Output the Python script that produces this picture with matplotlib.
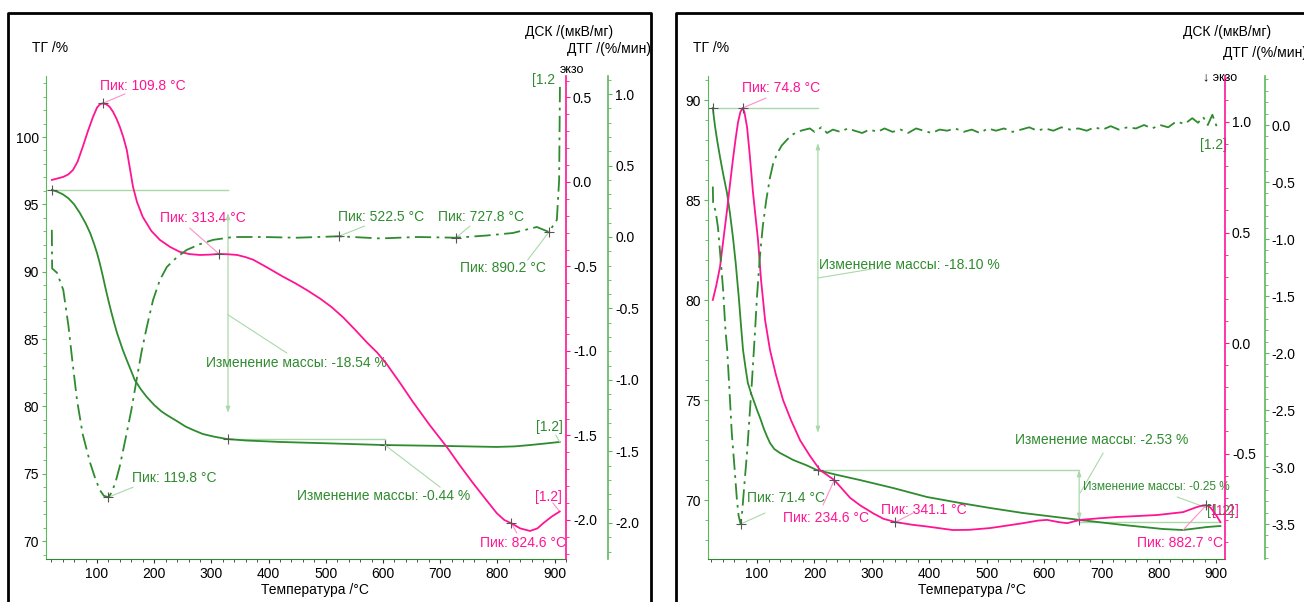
import matplotlib
matplotlib.use("Agg")
import matplotlib.pyplot as plt
from matplotlib.lines import Line2D
from matplotlib.ticker import MultipleLocator, FormatStrFormatter

plt.rcParams['font.family'] = ['Liberation Sans Narrow', 'Liberation Sans', 'DejaVu Sans']
plt.rcParams['axes.unicode_minus'] = False

# ---------------- left sample ----------------
L_T_TG = [21, 30, 40, 50, 60, 70, 80, 88, 95, 100, 105, 110, 115, 120, 125, 130, 135, 145, 152, 160, 166,
          177, 187, 200, 212, 222, 240, 255, 268, 285, 305, 327, 360, 420, 510, 603, 712, 760, 799, 830,
          857, 885, 909]
L_TG = [96.07, 95.95, 95.75, 95.45, 95.0, 94.36, 93.6, 92.87, 92.05, 91.39, 90.6, 89.7, 88.75, 87.85, 87.0,
        86.2, 85.45, 84.2, 83.44, 82.6, 81.96, 81.25, 80.7, 80.1, 79.65, 79.36, 78.9, 78.5, 78.25, 77.95,
        77.75, 77.58, 77.47, 77.36, 77.25, 77.13, 77.06, 77.02, 76.99, 77.03, 77.13, 77.25, 77.36]

L_T_DSC = [21, 30, 41, 50, 58, 66, 75, 84, 93, 100, 105, 109.8, 116, 122, 128, 134, 140, 146, 152, 157,
           163, 170, 180, 195, 210, 228, 245, 262, 280, 297, 313.4, 330, 345, 360, 373, 397, 425, 447,
           467, 490, 510, 530, 550, 572, 590, 607, 630, 652, 682, 712, 735, 757, 779, 799, 812, 824.6,
           840, 857, 870, 880, 895, 909]
L_DSC = [0.012, 0.02, 0.03, 0.045, 0.071, 0.12, 0.207, 0.3, 0.385, 0.44, 0.46, 0.465, 0.46, 0.445, 0.415,
         0.375, 0.325, 0.265, 0.19, 0.09, -0.03, -0.12, -0.207, -0.29, -0.343, -0.385, -0.414, -0.427,
         -0.432, -0.43, -0.426, -0.428, -0.432, -0.445, -0.46, -0.505, -0.56, -0.60, -0.64, -0.69, -0.74,
         -0.80, -0.87, -0.95, -1.01, -1.08, -1.19, -1.30, -1.44, -1.57, -1.68, -1.78, -1.875, -1.96, -2.0,
         -2.02, -2.05, -2.065, -2.05, -2.02, -1.98, -1.95]

L_T_DTG = [21, 21.5, 30, 41, 50, 57, 65, 75, 88, 97, 105, 112, 119.8, 125, 132, 140, 152, 160, 170, 178,
           187, 198, 210, 222, 240, 257, 280, 303, 338, 390, 450, 522.5, 595, 660, 727.8, 780, 827, 869,
           890.2, 904, 908, 909.4]
L_DTG = [0.05, -0.22, -0.25, -0.37, -0.62, -0.87, -1.14, -1.38, -1.58, -1.69, -1.77, -1.81, -1.82, -1.79,
         -1.72, -1.6, -1.37, -1.21, -0.98, -0.8, -0.63, -0.44, -0.3, -0.21, -0.14, -0.09, -0.05, -0.02,
         0.0, 0.0, -0.005, 0.005, -0.01, 0.0, -0.005, 0.01, 0.028, 0.07, 0.035, 0.12, 0.4, 1.05]

# ---------------- right sample ----------------
R_T_TG = [23, 25, 27, 31, 35.5, 41, 47.7, 53, 58, 63, 68.6, 72, 75.6, 80, 84, 90, 95, 100, 106, 112, 117,
          122.6, 130, 140, 150, 163, 185, 204, 240, 279, 337, 396, 454, 506, 563, 663, 738, 807, 842,
          870, 884, 907]
R_TG = [89.6, 89.1, 88.65, 87.9, 87.15, 86.3, 85.35, 84.3, 83.15, 81.8, 80.0, 78.75, 77.5, 76.6, 75.85,
        75.3, 74.9, 74.5, 74.05, 73.55, 73.2, 72.85, 72.55, 72.35, 72.2, 72.0, 71.75, 71.5, 71.25, 71.0,
        70.6, 70.15, 69.85, 69.6, 69.35, 69.0, 68.75, 68.55, 68.5, 68.6, 68.65, 68.7]

R_T_DSC = [23, 29, 35.5, 41, 47.7, 53, 58, 63, 67, 71, 74.8, 78, 82.6, 87, 93, 101.7, 107, 114, 122.6,
           133, 145.3, 159, 175, 192, 209.8, 234.6, 262, 280, 302, 320, 341.1, 370, 396, 441, 470, 506,
           535, 563, 590, 605, 625, 640, 663, 695, 727, 760, 797, 842, 866, 876, 882.7, 890, 900, 907]
R_DSC = [0.195, 0.26, 0.344, 0.46, 0.60, 0.72, 0.83, 0.93, 1.0, 1.045, 1.063, 1.045, 0.977, 0.86, 0.68,
         0.466, 0.285, 0.104, -0.032, -0.145, -0.258, -0.348, -0.44, -0.51, -0.575, -0.62, -0.70, -0.735,
         -0.77, -0.795, -0.81, -0.822, -0.83, -0.846, -0.845, -0.837, -0.826, -0.815, -0.803, -0.80,
         -0.81, -0.815, -0.80, -0.793, -0.787, -0.783, -0.778, -0.765, -0.742, -0.735, -0.733, -0.745,
         -0.78, -0.81]

R_T_DTG = [23, 23.5, 28, 32, 37, 41, 45, 48, 52, 56, 61, 65, 68, 71.4, 74, 78, 83, 87, 91, 96, 100, 105,
           110, 116, 122.6, 128, 135, 143, 152, 160, 170, 180, 192,
           200, 212, 222, 232, 245, 258, 270, 283, 296, 310, 322, 336, 350, 363, 377, 390, 404, 418, 431,
           445, 460, 474, 488, 502, 516, 530, 545, 560, 574, 588, 602, 616, 630, 645, 660, 674, 688, 702,
           716, 730, 745, 760, 774, 788, 802, 816, 830, 845, 858, 868, 877, 885, 893, 901]
R_DTG = [-0.54, -0.68, -0.76, -0.9, -1.2, -1.45, -1.8, -1.97, -2.33, -2.70, -3.02, -3.29, -3.43, -3.50,
         -3.40, -3.15, -2.85, -2.55, -2.26, -1.85, -1.5, -1.15, -0.89, -0.66, -0.46, -0.34, -0.25, -0.18,
         -0.13, -0.09, -0.06, -0.045, -0.03,
         -0.06, -0.02, -0.07, -0.04, -0.06, -0.03, -0.05, -0.07, -0.04, -0.06, -0.03, -0.06, -0.04, -0.07,
         -0.03, -0.05, -0.07, -0.04, -0.05, -0.03, -0.06, -0.04, -0.07, -0.03, -0.05, -0.03, -0.06, -0.04,
         -0.02, -0.05, -0.03, -0.05, -0.02, -0.04, -0.03, -0.05, -0.02, -0.04, -0.01, -0.04, -0.02, -0.03,
         0.0, -0.03, 0.0, -0.02, 0.03, 0.01, 0.06, 0.02, 0.07, 0.0, 0.09, -0.02]

L_TG_TICKS = [70, 75, 80, 85, 90, 95, 100]
L_DSC_TICKS = [-2.0, -1.5, -1.0, -0.5, 0.0, 0.5]
L_DTG_TICKS = [-2.0, -1.5, -1.0, -0.5, 0.0, 0.5, 1.0]
R_TG_TICKS = [70, 75, 80, 85, 90]
R_DSC_TICKS = [-0.5, 0.0, 0.5, 1.0]
R_DTG_TICKS = [-3.5, -3.0, -2.5, -2.0, -1.5, -1.0, -0.5, 0.0]
X_TICKS = [100, 200, 300, 400, 500, 600, 700, 800, 900]

W, H = 1304, 602
GREEN = '#2e8b2e'
SPINE_G = '#5cb85c'
LGREEN = '#a9d9a9'
PINK = '#ff1493'
LPINK = '#ff8fc8'
CROSS = '#555555'
FS = 10
LW = 1.3
DASHDOT = (0, (9, 3, 1.5, 3))


def fig_rect(x0, x1, y0, y1):
    return [x0 / W, 1 - y1 / H, (x1 - x0) / W, (y1 - y0) / H]


def make_panel(fig, x0, x1, dtg_pos, xlim, tg_lim, dsc_lim, dtg_lim, tg_ticks, dsc_ticks, dtg_ticks):
    ax = fig.add_axes(fig_rect(x0, x1, 76, 559))
    ax.set_xlim(xlim)
    ax.set_ylim(tg_lim)
    ax.spines['top'].set_visible(False)
    ax.spines['right'].set_visible(False)
    ax.spines['left'].set_color(SPINE_G)
    ax.spines['bottom'].set_color(GREEN)
    ax.set_xticks(X_TICKS)
    ax.xaxis.set_minor_locator(MultipleLocator(20))
    ax.set_yticks(tg_ticks)
    ax.yaxis.set_minor_locator(MultipleLocator(1))
    ax.tick_params(axis='x', which='both', colors='#333333', labelcolor='black', labelsize=FS,
                   length=3, pad=3)
    ax.tick_params(axis='y', which='both', colors=SPINE_G, labelcolor='black', labelsize=FS,
                   length=3, pad=2)
    ax.tick_params(which='minor', length=2)

    ax_dsc = ax.twinx()
    ax_dsc.set_ylim(dsc_lim)
    for s in ['left', 'top', 'bottom']:
        ax_dsc.spines[s].set_visible(False)
    ax_dsc.spines['right'].set_color(PINK)
    ax_dsc.spines['right'].set_linewidth(1.2)
    ax_dsc.set_yticks(dsc_ticks)
    ax_dsc.yaxis.set_minor_locator(MultipleLocator(0.1))
    ax_dsc.yaxis.set_major_formatter(FormatStrFormatter('%.1f'))
    ax_dsc.tick_params(axis='y', which='both', colors=PINK, labelcolor='black', labelsize=FS,
                       length=3, pad=2)
    ax_dsc.tick_params(which='minor', length=2)

    ax_dtg = ax.twinx()
    ax_dtg.set_ylim(dtg_lim)
    for s in ['left', 'top', 'bottom']:
        ax_dtg.spines[s].set_visible(False)
    ax_dtg.spines['right'].set_position(('axes', dtg_pos))
    ax_dtg.spines['right'].set_color(SPINE_G)
    ax_dtg.spines['right'].set_linewidth(1.2)
    ax_dtg.set_yticks(dtg_ticks)
    ax_dtg.yaxis.set_minor_locator(MultipleLocator(0.1))
    ax_dtg.yaxis.set_major_formatter(FormatStrFormatter('%.1f'))
    ax_dtg.tick_params(axis='y', which='both', colors=SPINE_G, labelcolor='black', labelsize=FS,
                       length=3, pad=2)
    ax_dtg.tick_params(which='minor', length=2)
    return ax, ax_dsc, ax_dtg


def leader(ax_from, p, ax_to, q, color):
    ax_to.annotate('', xy=p, xycoords=ax_from.transData, xytext=q, textcoords=ax_to.transData,
                   arrowprops=dict(arrowstyle='-', color=color, lw=0.8, shrinkA=0, shrinkB=0))


def darrow(ax, x, y1, y2):
    ax.annotate('', xy=(x, y2), xytext=(x, y1),
                arrowprops=dict(arrowstyle='<|-|>,head_length=0.35,head_width=0.12', color=LGREEN,
                                lw=0.9, shrinkA=0, shrinkB=0))


def label(ax, x, y, s, color, size=FS):
    ax.text(x, y, s, color=color, fontsize=size, ha='left', va='center')


fig = plt.figure(figsize=(W / 100, H / 100), dpi=100)

# panel frames
for xs, ys in [([8, 8, 651, 651], [602, 13, 13, 602]), ([676, 676, 1304], [602, 13, 13])]:
    fig.add_artist(Line2D([x / W for x in xs], [1 - y / H for y in ys], transform=fig.transFigure,
                          color='black', lw=2))

# ================= left panel =================
ax, ax_dsc, ax_dtg = make_panel(fig, 46, 566, 1.081, (10.8, 920), (68.67, 104.53), (-2.231, 0.627),
                                (-2.252, 1.126), L_TG_TICKS, L_DSC_TICKS, L_DTG_TICKS)

# mass-change guides
ax.plot([20, 329], [96.07, 96.07], color=LGREEN, lw=1)
darrow(ax, 329, 94.36, 79.51)
ax.plot([329, 603.5, 603.5], [77.58, 77.58, 77.13], color=LGREEN, lw=1)
leader(ax, (329, 86.8), ax, (432, 83.96), LGREEN)
label(ax, 290, 83.22, 'Изменение массы: -18.54 %', GREEN)
leader(ax, (603.5, 77.13), ax, (700, 74.0), LGREEN)
label(ax, 450, 73.35, 'Изменение массы: -0.44 %', GREEN)

ax.plot(L_T_TG, L_TG, color=GREEN, lw=LW)
ax_dsc.plot(L_T_DSC, L_DSC, color=PINK, lw=LW)
ax_dtg.plot(L_T_DTG, L_DTG, color=GREEN, lw=LW, ls=DASHDOT)

ax.plot([21, 329, 603.5], [96.07, 77.55, 77.13], '+', color=CROSS, ms=7, mew=0.8)
ax_dsc.plot([109.8, 313.4, 824.6], [0.465, -0.426, -2.02], '+', color=CROSS, ms=7, mew=0.8)
ax_dtg.plot([119.8, 522.5, 727.8, 890.2], [-1.82, 0.005, -0.005, 0.035], '+', color=CROSS, ms=7, mew=0.8)

leader(ax_dsc, (109.8, 0.465), ax, (149, 103.2), LPINK)
label(ax, 105, 103.8, 'Пик: 109.8 °C', PINK)
leader(ax_dsc, (313.4, -0.426), ax, (262, 93.24), LPINK)
label(ax, 210, 93.99, 'Пик: 313.4 °C', PINK)
leader(ax_dtg, (119.8, -1.82), ax, (163, 74.0), LGREEN)
label(ax, 161, 74.68, 'Пик: 119.8 °C', GREEN)
leader(ax_dtg, (522.5, 0.005), ax, (568, 93.39), LGREEN)
label(ax, 521, 94.06, 'Пик: 522.5 °C', GREEN)
leader(ax_dtg, (727.8, -0.005), ax, (752, 93.39), LGREEN)
label(ax, 696, 94.06, 'Пик: 727.8 °C', GREEN)
leader(ax_dtg, (890.2, 0.035), ax, (853, 90.87), LGREEN)
label(ax, 735, 90.27, 'Пик: 890.2 °C', GREEN)
leader(ax_dsc, (824.6, -2.02), ax, (834, 70.6), LPINK)
label(ax, 770, 69.86, 'Пик: 824.6 °C', PINK)
leader(ax_dsc, (909, -1.95), ax, (897, 72.83), LPINK)
label(ax, 866, 73.27, '[1.2]', PINK)
leader(ax, (909, 77.36), ax, (902, 77.88), LGREEN)
label(ax, 867, 78.47, '[1.2]', GREEN)
label(ax, 860, 104.25, '[1.2', GREEN)

fig.text(32 / W, 1 - 48 / H, 'ТГ /%', fontsize=FS, ha='left', va='center')
fig.text(525 / W, 1 - 32 / H, 'ДСК /(мкВ/мг)', fontsize=FS, ha='left', va='center')
fig.text(567 / W, 1 - 49 / H, 'ДТГ /(%/мин)', fontsize=FS, ha='left', va='center')
fig.text(560 / W, 1 - 70 / H, 'экзо', fontsize=9, ha='left', va='center')
fig.text(315 / W, 1 - 590 / H, 'Температура /°C', fontsize=FS, ha='center', va='center')

# ================= right panel =================
ax, ax_dsc, ax_dtg = make_panel(fig, 708, 1225, 1.077, (14.6, 915), (67.05, 91.2), (-0.977, 1.208),
                                (-3.807, 0.43), R_TG_TICKS, R_DSC_TICKS, R_DTG_TICKS)

ax.plot([23, 206], [89.6, 89.6], color=LGREEN, lw=1)
darrow(ax, 206, 87.85, 73.35)
leader(ax, (206, 81.1), ax, (300, 81.55), LGREEN)
label(ax, 208, 81.75, 'Изменение массы: -18.10 %', GREEN)
ax.plot([206, 661], [71.5, 71.5], color=LGREEN, lw=1)
darrow(ax, 661, 71.5, 69.0)
leader(ax, (662.7, 70.35), ax, (702.8, 72.35), LGREEN)
label(ax, 549.5, 73.0, 'Изменение массы: -2.53 %', GREEN)
ax.plot([661, 907], [68.9, 68.9], color=LGREEN, lw=1)
leader(ax, (884, 69.6), ax, (831.7, 70.15), LGREEN)
label(ax, 668, 70.65, 'Изменение массы: -0.25 %', GREEN, size=8.5)

ax.plot(R_T_TG, R_TG, color=GREEN, lw=LW)
ax_dsc.plot(R_T_DSC, R_DSC, color=PINK, lw=LW)
ax_dtg.plot(R_T_DTG, R_DTG, color=GREEN, lw=LW, ls=DASHDOT)

ax.plot([23, 206, 661], [89.6, 71.5, 69.0], '+', color=CROSS, ms=7, mew=0.8)
ax_dsc.plot([74.8, 234.6, 341.1, 882.7], [1.063, -0.62, -0.81, -0.733], '+', color=CROSS, ms=7, mew=0.8)
ax_dtg.plot([71.4], [-3.5], '+', color=CROSS, ms=7, mew=0.8)

leader(ax_dsc, (74.8, 1.063), ax, (115.7, 90.1), LPINK)
label(ax, 73.9, 90.6, 'Пик: 74.8 °C', PINK)
leader(ax_dtg, (71.4, -3.5), ax, (114, 69.35), LGREEN)
label(ax, 82.6, 70.1, 'Пик: 71.4 °C', GREEN)
leader(ax_dsc, (234.6, -0.62), ax, (215, 69.75), LPINK)
label(ax, 145.3, 69.1, 'Пик: 234.6 °C', PINK)
leader(ax_dsc, (341.1, -0.81), ax, (371.8, 69.35), LPINK)
label(ax, 316, 69.5, 'Пик: 341.1 °C', PINK)
leader(ax_dsc, (882.7, -0.733), ax, (842, 68.5), LPINK)
label(ax, 762, 67.85, 'Пик: 882.7 °C', PINK)
label(ax, 872, 87.75, '[1.2]', GREEN)
label(ax, 884, 69.45, '[1.2]', GREEN)
label(ax, 892, 69.45, '[1.2]', PINK)

fig.text(693 / W, 1 - 48 / H, 'ТГ /%', fontsize=FS, ha='left', va='center')
fig.text(1183 / W, 1 - 32 / H, 'ДСК /(мкВ/мг)', fontsize=FS, ha='left', va='center')
fig.text(1223 / W, 1 - 53 / H, 'ДТГ /(%/мин)', fontsize=FS, ha='left', va='center')
fig.text(1203 / W, 1 - 77 / H, '↓ экзо', fontsize=9, ha='left', va='center')
fig.text(972 / W, 1 - 590 / H, 'Температура /°C', fontsize=FS, ha='center', va='center')

fig.savefig('out.png', dpi=100)
